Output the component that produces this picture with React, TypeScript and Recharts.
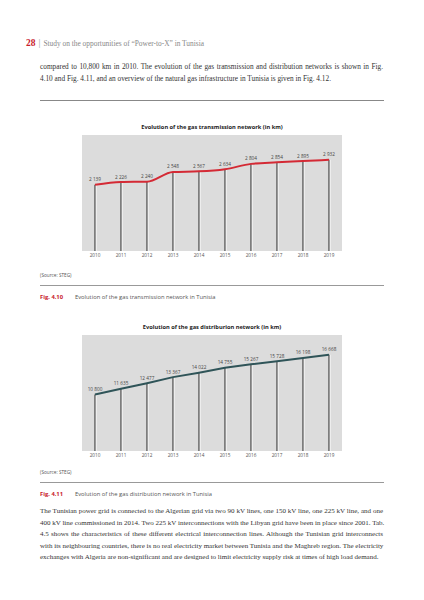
import React from 'react';
import {
  Bar,
  CartesianGrid,
  ComposedChart,
  LabelList,
  Line,
  XAxis,
  YAxis,
} from 'recharts';

const years = ['2010', '2011', '2012', '2013', '2014', '2015', '2016', '2017', '2018', '2019'];
const transmissionKm = [2139, 2226, 2240, 2548, 2567, 2634, 2804, 2854, 2895, 2932];
const distributionKm = [10800, 11635, 12477, 13367, 14022, 14755, 15267, 15728, 16198, 16668];

const introLines = [
  'compared to 10,800 km in 2010. The evolution of the gas transmission and distribution networks is shown in Fig.',
  '4.10 and Fig. 4.11, and an overview of the natural gas infrastructure in Tunisia is given in Fig. 4.12.',
];

const outroLines = [
  'The Tunisian power grid is connected to the Algerian grid via two 90 kV lines, one 150 kV line, one 225 kV line, and one',
  '400 kV line commissioned in 2014. Two 225 kV interconnections with the Libyan grid have been in place since 2001. Tab.',
  '4.5 shows the characteristics of these different electrical interconnection lines. Although the Tunisian grid interconnects',
  'with its neighbouring countries, there is no real electricity market between Tunisia and the Maghreb region. The electricity',
  'exchanges with Algeria are non-significant and are designed to limit electricity supply risk at times of high load demand.',
];

const SANS = '"Open Sans", "Noto Sans", sans-serif';
const SERIF = '"Liberation Serif", serif';

const fmt = (n: number) => String(n).replace(/\B(?=(\d{3})+(?!\d))/g, ' ');

// thin dark drop line from the point down to the base, with a white edge beside it
function DropLine(props: any) {
  const { x, y, width, height } = props;
  if (x == null || y == null) return null;
  const cx = x + width / 2;
  return (
    <g>
      <line x1={cx} x2={cx} y1={y} y2={y + height} stroke="#555" strokeWidth={1.4} />
      <line x1={cx + 1.2} x2={cx + 1.2} y1={y} y2={y + height} stroke="#fff" strokeWidth={0.7} />
    </g>
  );
}

function ValueLabel(props: any) {
  const { x, y, width, value } = props;
  const cx = width != null ? x + width / 2 : x;
  return (
    <text x={cx} y={y - 3.5} textAnchor="middle" fontSize={4.7} fill="#444" fontFamily={SANS}>
      {fmt(Number(value))}
    </text>
  );
}

interface NetworkChartProps {
  top: number;
  title: string;
  values: number[];
  domain: [number, number];
  color: string;
  curve: 'monotone' | 'linear';
}

function NetworkChart({ top, title, values, domain, color, curve }: NetworkChartProps) {
  const data = years.map((year, i) => ({ year, value: values[i] }));
  return (
    <div style={{ position: 'absolute', left: 0, top, width: 424, height: 160 }}>
      <div
        style={{
          position: 'absolute',
          top: 13,
          width: 424,
          textAlign: 'center',
          fontFamily: SANS,
          fontWeight: 700,
          fontSize: 5.7,
          color: '#222',
        }}
      >
        {title}
      </div>
      <ComposedChart
        width={424}
        height={160}
        data={data}
        margin={{ top: 25, right: 82, bottom: 5, left: 82 }}
        barCategoryGap={0}
      >
        <CartesianGrid fill="#dcdcdc" horizontal={false} vertical={false} />
        <XAxis
          dataKey="year"
          height={14}
          axisLine={false}
          tickLine={false}
          tickSize={0}
          tickMargin={3}
          interval={0}
          tick={{ fontSize: 4.7, fill: '#555', fontFamily: SANS }}
        />
        <YAxis hide domain={domain} allowDataOverflow type="number" />
        <Bar dataKey="value" barSize={2} shape={<DropLine />} isAnimationActive={false} />
        <Line
          type={curve}
          dataKey="value"
          stroke={color}
          strokeWidth={2}
          dot={false}
          isAnimationActive={false}
        >
          <LabelList dataKey="value" content={<ValueLabel />} />
        </Line>
      </ComposedChart>
    </div>
  );
}

function Caption({ top, num, text }: { top: number; num: string; text: string }) {
  return (
    <>
      <div style={{ position: 'absolute', left: 40, top: top - 25, fontFamily: SANS, fontSize: 4.7, color: '#555' }}>
        (Source: STEG)
      </div>
      <div style={{ position: 'absolute', left: 40, top: top - 12, width: 344, height: 1, background: '#999' }} />
      <div style={{ position: 'absolute', left: 40, top: top - 4, fontFamily: SANS, fontSize: 5.8, whiteSpace: 'nowrap' }}>
        <span style={{ color: '#c8202c', fontWeight: 700 }}>{num}</span>
        <span style={{ position: 'absolute', left: 35, color: '#555' }}>{text}</span>
      </div>
    </>
  );
}

function Paragraph({ lines, top, step, size }: { lines: string[]; top: number; step: number; size: number }) {
  return (
    <>
      {lines.map((line, i) => {
        const last = i === lines.length - 1;
        return (
          <div
            key={i}
            style={{
              position: 'absolute',
              left: 40,
              top: top + i * step,
              width: 343,
              fontFamily: SERIF,
              fontSize: size,
              color: '#333',
              whiteSpace: 'nowrap',
              textAlign: last ? 'left' : 'justify',
              textAlignLast: last ? 'left' : 'justify',
            }}
          >
            {line}
          </div>
        );
      })}
    </>
  );
}

export default function App() {
  return (
    <div
      style={{
        position: 'absolute',
        left: 0,
        top: 0,
        width: 424,
        height: 600,
        background: '#fff',
        overflow: 'hidden',
      }}
    >
      <div style={{ position: 'absolute', left: 26, top: 32, fontFamily: SERIF, whiteSpace: 'nowrap' }}>
        <span style={{ color: '#c8202c', fontWeight: 700, fontSize: 9.5 }}>28</span>
        <span style={{ color: '#999', fontSize: 9.5, margin: '0 3px' }}>|</span>
        <span style={{ color: '#888', fontSize: 7.4 }}>Study on the opportunities of “Power-to-X” in Tunisia</span>
      </div>

      <Paragraph lines={introLines} top={62} step={12.3} size={7.3} />
      <div style={{ position: 'absolute', left: 40, top: 100, width: 344, height: 1, background: '#888' }} />

      <NetworkChart
        top={110}
        title="Evolution of the gas transmission network (in km)"
        values={transmissionKm}
        domain={[40, 3720]}
        color="#d42a35"
        curve="monotone"
      />
      <Caption top={297} num="Fig. 4.10" text="Evolution of the gas transmission network in Tunisia" />

      <NetworkChart
        top={310}
        title="Evolution of the gas distriburion network (in km)"
        values={distributionKm}
        domain={[2440, 19600]}
        color="#2f5458"
        curve="linear"
      />
      <Caption top={494} num="Fig. 4.11" text="Evolution of the gas distribution network in Tunisia" />

      <Paragraph lines={outroLines} top={507} step={11.5} size={7} />
    </div>
  );
}
